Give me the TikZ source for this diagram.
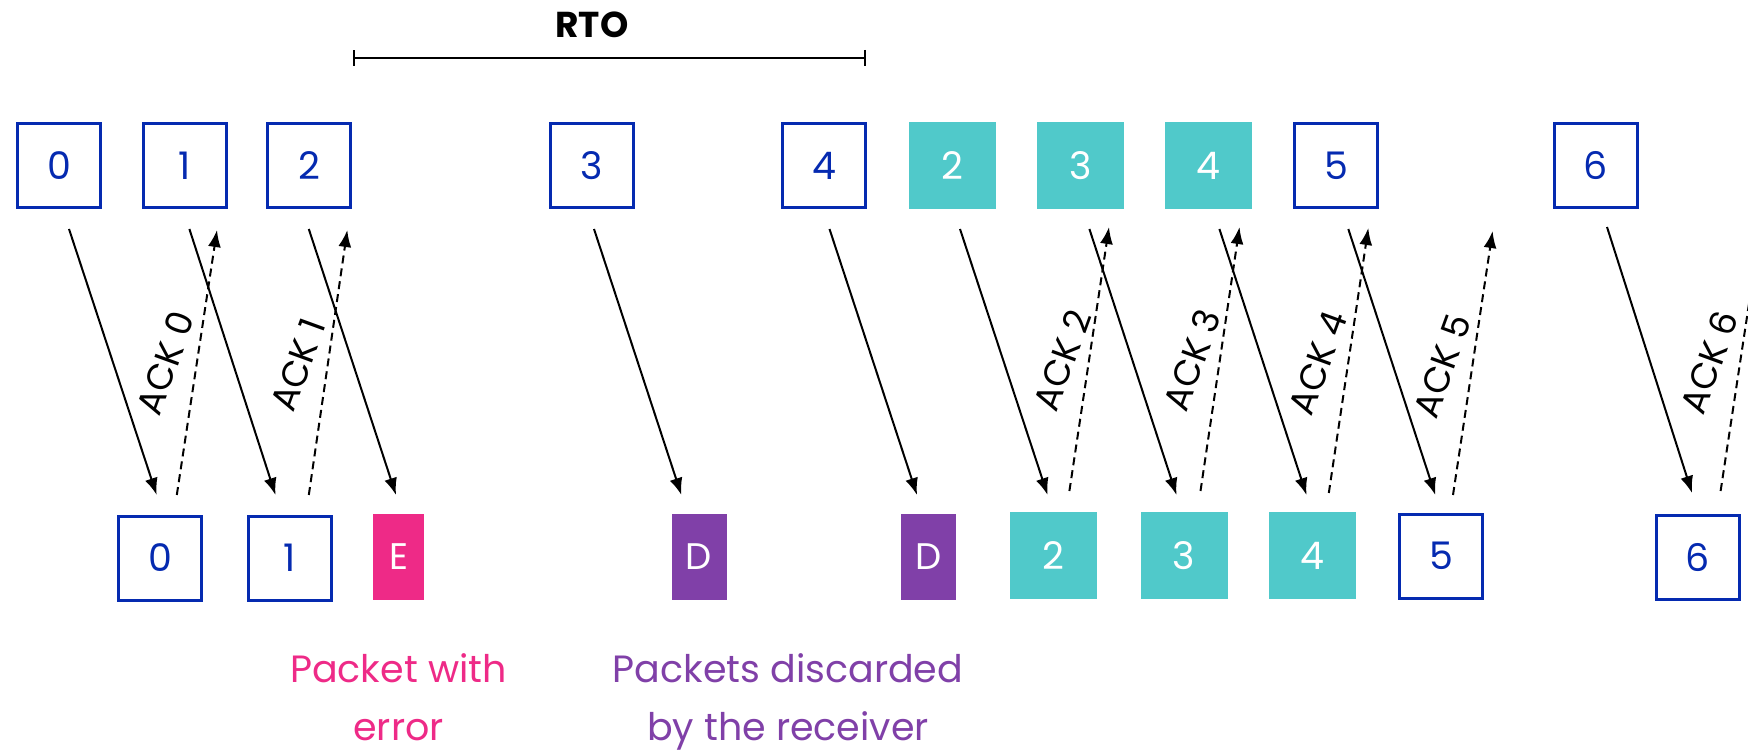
\documentclass[tikz,border=0pt]{standalone}
\usepackage{fontspec}
\setmainfont{Poppins}
\usetikzlibrary{arrows.meta}
\definecolor{pblue}{RGB}{5,42,176}
\definecolor{pteal}{RGB}{80,201,202}
\definecolor{ppink}{RGB}{238,42,135}
\definecolor{ppurple}{RGB}{128,64,168}
\begin{document}
\begin{tikzpicture}[x=1pt,y=-1pt,
  pkt/.style={draw=pblue,line width=3pt,minimum width=83pt,minimum height=84pt,inner sep=0pt,text=pblue,font=\fontsize{38}{40}\selectfont},
  okpkt/.style={fill=pteal,minimum width=87pt,minimum height=87pt,inner sep=0pt,text=white,font=\fontsize{38}{40}\selectfont},
  errpkt/.style={fill=ppink,minimum width=51pt,minimum height=86pt,inner sep=0pt,text=white,font=\fontsize{37}{40}\selectfont},
  dpkt/.style={fill=ppurple,minimum width=55pt,minimum height=86pt,inner sep=0pt,text=white,font=\fontsize{37}{40}\selectfont},
  data/.style={line width=2pt,-{Latex[length=17pt,width=13pt]}},
  ack/.style={line width=2pt,dash pattern=on 8pt off 5pt,-{Latex[length=17pt,width=13pt]}},
  acklbl/.style={rotate=70,inner sep=0pt,font=\fontsize{36}{40}\selectfont},
  note/.style={align=center,anchor=north,inner sep=0pt,font=\fontsize{38}{58}\selectfont},
]
\clip (0,0) rectangle (1748,751);
% RTO
\node[font=\fontsize{36}{40}\selectfont\bfseries] (rto) at (592,25) {RTO};
\coordinate (rtoL) at (352.5,58);
\coordinate (rtoR) at (866,58);
\draw[line width=2.5pt,{Bar[width=16pt]}-{Bar[width=16pt]}] (rtoL) -- (rtoR);
% sender packets
\node[pkt] (t0) at (59,165.5) {0};
\node[pkt] (t1) at (184.5,165.5) {1};
\node[pkt] (t2) at (309,165.5) {2};
\node[pkt] (t3) at (592,165.5) {3};
\node[pkt] (t4) at (824,165.5) {4};
\node[okpkt] (t5) at (952.5,165.5) {2};
\node[okpkt] (t6) at (1080.5,165.5) {3};
\node[okpkt] (t7) at (1208.5,165.5) {4};
\node[pkt] (t8) at (1336,165.5) {5};
\node[pkt] (t9) at (1595.5,165.5) {6};
% receiver packets
\node[pkt] (b0) at (160,558) {0};
\node[pkt] (b1) at (290,558) {1};
\node[errpkt] (bE) at (398.5,557) {E};
\node[dpkt] (bD1) at (699,557) {D};
\node[dpkt] (bD2) at (928.5,557) {D};
\node[okpkt] (b2) at (1053.5,555.5) {2};
\node[okpkt] (b3) at (1184,555.5) {3};
\node[okpkt] (b4) at (1312.5,555.5) {4};
\node[pkt] (b5) at (1441,556) {5};
\node[pkt] (b6) at (1697.5,557.5) {6};
% data arrow end points
\coordinate (s0) at (69,229);     \coordinate (e0) at (156.7,495);
\coordinate (s1) at (189.4,229);  \coordinate (e1) at (275.5,495);
\coordinate (s2) at (308.8,229);  \coordinate (e2) at (396,495);
\coordinate (s3) at (594,229);    \coordinate (e3) at (681.4,495);
\coordinate (s4) at (829.5,229);  \coordinate (e4) at (917,495);
\coordinate (s5) at (960,229);    \coordinate (e5) at (1047.6,495);
\coordinate (s6) at (1089.4,229); \coordinate (e6) at (1176.5,495);
\coordinate (s7) at (1219.4,229); \coordinate (e7) at (1306.5,495);
\coordinate (s8) at (1348.3,229); \coordinate (e8) at (1435.3,495);
\coordinate (s9) at (1607,227);   \coordinate (e9) at (1692,493);
\foreach \i in {0,...,9} {\draw[data] (s\i) -- (e\i);}
% ack end points
\coordinate (ks0) at (176.8,495);  \coordinate (ke0) at (217,230);
\coordinate (ks1) at (308.8,495);  \coordinate (ke1) at (347.3,230);
\coordinate (ks2) at (1069.4,491); \coordinate (ke2) at (1109,227);
\coordinate (ks3) at (1200.5,491); \coordinate (ke3) at (1239.5,227);
\coordinate (ks4) at (1328.8,493); \coordinate (ke4) at (1368.3,228);
\coordinate (ks5) at (1453,495);   \coordinate (ke5) at (1492.6,231);
\coordinate (ks6) at (1720.6,491); \coordinate (ke6) at (1760.6,227);
\foreach \i in {0,...,6} {\draw[ack] (ks\i) -- (ke\i);}
% ack labels
\node[acklbl] (l0) at (165,363) {ACK 0};
\node[acklbl] (l1) at (298,365) {ACK 1};
\node[acklbl] (l2) at (1062,360) {ACK 2};
\node[acklbl] (l3) at (1192,360) {ACK 3};
\node[acklbl] (l4) at (1318,363) {ACK 4};
\node[acklbl] (l5) at (1442,366) {ACK 5};
\node[acklbl] (l6) at (1709,362) {ACK 6};
% notes
\node[note,text=ppink] (nerr) at (398.5,653) {Packet with\\error};
\node[note,text=ppurple] (ndisc) at (788,653) {Packets discarded\\by the receiver};
\end{tikzpicture}
\end{document}
